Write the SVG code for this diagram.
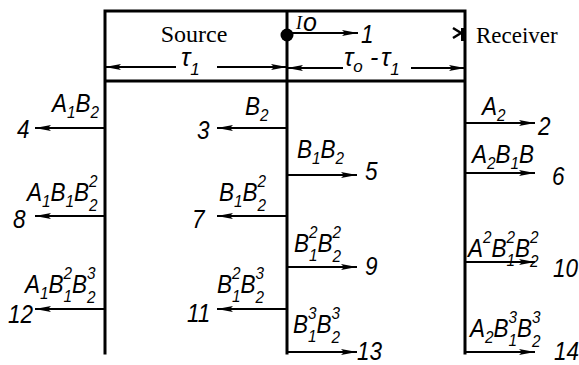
<svg xmlns="http://www.w3.org/2000/svg" width="579" height="365" viewBox="0 0 579 365">
<style>
.fr{stroke:#000;stroke-width:3;fill:none;stroke-linecap:square}
.ar{stroke:#000;stroke-width:2;fill:none}
.lb{font-family:"Liberation Sans",Arial,sans-serif;font-style:italic;font-size:25px;fill:#000}
.s{font-size:17px}
.sf{font-family:"Liberation Serif","Times New Roman",serif;fill:#000}
</style>
<defs>
<marker id="ah" viewBox="0 0 16 6" refX="16" refY="3" markerWidth="16" markerHeight="6" markerUnits="userSpaceOnUse" orient="auto-start-reverse">
<path d="M0,0 L16,3 L0,6 L3,3 z" fill="#000"/>
</marker>
</defs>
<g id="frame">
<path class="fr" d="M105,11 H465 M105,81 H465 M105,11 V353 M287,11 V353 M465,11 V353"/>
</g>
<g id="source">
<text class="sf" x="194" y="42" font-size="24" text-anchor="middle">Source</text>
<circle cx="287" cy="35" r="6.5" fill="#000"/>
</g>
<g id="receiver">
<text class="sf" x="476" y="43" font-size="23">Receiver</text>
<polyline points="453,28 461,33 453,38" fill="none" stroke="#000" stroke-width="2.5"/>
<rect x="461" y="28" width="5" height="13" fill="#000"/>
</g>
<g id="connectors">
<line class="ar" x1="287" y1="33" x2="358" y2="33" marker-end="url(#ah)"/>
<line class="ar" x1="176" y1="67" x2="105" y2="67" marker-end="url(#ah)"/>
<line class="ar" x1="217" y1="67" x2="287" y2="67" marker-end="url(#ah)"/>
<line class="ar" x1="343" y1="68" x2="287" y2="68" marker-end="url(#ah)"/>
<line class="ar" x1="411" y1="68" x2="465" y2="68" marker-end="url(#ah)"/>
<line class="ar" x1="105" y1="128" x2="35" y2="128" marker-end="url(#ah)"/>
<line class="ar" x1="287" y1="128" x2="217" y2="128" marker-end="url(#ah)"/>
<line class="ar" x1="105" y1="216" x2="35" y2="216" marker-end="url(#ah)"/>
<line class="ar" x1="287" y1="216" x2="217" y2="216" marker-end="url(#ah)"/>
<line class="ar" x1="105" y1="309" x2="35" y2="309" marker-end="url(#ah)"/>
<line class="ar" x1="287" y1="309" x2="217" y2="309" marker-end="url(#ah)"/>
<line class="ar" x1="287" y1="175" x2="357" y2="175" marker-end="url(#ah)"/>
<line class="ar" x1="287" y1="267" x2="357" y2="267" marker-end="url(#ah)"/>
<line class="ar" x1="286" y1="352" x2="357" y2="352" marker-end="url(#ah)"/>
<line class="ar" x1="465" y1="123" x2="535" y2="123" marker-end="url(#ah)"/>
<line class="ar" x1="465" y1="173" x2="535" y2="173" marker-end="url(#ah)"/>
<line class="ar" x1="465" y1="262" x2="535" y2="262" marker-end="url(#ah)"/>
<line class="ar" x1="464" y1="352" x2="535" y2="352" marker-end="url(#ah)"/>
</g>
<g id="dims">
<text class="sf" x="296" y="29" font-size="18" font-style="italic">I<tspan class="lb" font-size="15px" dx="1" dy="2">o</tspan></text>
<text class="lb" transform="translate(361,43) scale(0.9,1)">1</text>
<text class="lb" x="181" y="66" font-size="28px">τ<tspan class="s" dy="9">1</tspan></text>
<text class="lb" x="344" y="66" font-size="28px">τ<tspan class="s" dy="6">o</tspan><tspan x="370" dy="-6">-</tspan><tspan x="381">τ</tspan><tspan class="s" dy="9">1</tspan></text>
</g>
<g id="n4"><text class="lb" transform="translate(52,112) scale(0.9,1)">A<tspan class="s" dy="6">1</tspan><tspan dy="-6">B</tspan><tspan class="s" dy="6">2</tspan></text>
<text class="lb" transform="translate(17,138) scale(0.9,1)">4</text></g>
<g id="n3"><text class="lb" transform="translate(245,115) scale(0.9,1)">B<tspan class="s" dy="6">2</tspan></text>
<text class="lb" transform="translate(197,139) scale(0.9,1)">3</text></g>
<g id="n8"><text class="lb" transform="translate(27,201) scale(0.9,1)">A<tspan class="s" dy="6">1</tspan><tspan dy="-6">B</tspan><tspan class="s" dy="6">1</tspan><tspan dy="-6">B</tspan><tspan class="s" dy="-14">2</tspan><tspan class="s" dx="-9.45" dy="24">2</tspan></text>
<text class="lb" transform="translate(13,228) scale(0.9,1)">8</text></g>
<g id="n7"><text class="lb" transform="translate(219,201) scale(0.9,1)">B<tspan class="s" dy="6">1</tspan><tspan dy="-6">B</tspan><tspan class="s" dy="-14">2</tspan><tspan class="s" dx="-9.45" dy="24">2</tspan></text>
<text class="lb" transform="translate(192,228) scale(0.9,1)">7</text></g>
<g id="n12"><text class="lb" transform="translate(25,293) scale(0.9,1)">A<tspan class="s" dy="6">1</tspan><tspan dy="-6">B</tspan><tspan class="s" dy="-14">2</tspan><tspan class="s" dx="-9.45" dy="23">1</tspan><tspan dy="-9">B</tspan><tspan class="s" dy="-14">3</tspan><tspan class="s" dx="-9.45" dy="24">2</tspan></text>
<text class="lb" transform="translate(8,323) scale(0.9,1)">12</text></g>
<g id="n11"><text class="lb" transform="translate(217,293) scale(0.9,1)">B<tspan class="s" dy="-14">2</tspan><tspan class="s" dx="-9.45" dy="23">1</tspan><tspan dy="-9">B</tspan><tspan class="s" dy="-14">3</tspan><tspan class="s" dx="-9.45" dy="24">2</tspan></text>
<text class="lb" transform="translate(187,322) scale(0.9,1)">11</text></g>
<g id="n5"><text class="lb" transform="translate(297,158) scale(0.9,1)">B<tspan class="s" dy="6">1</tspan><tspan dy="-6">B</tspan><tspan class="s" dy="6">2</tspan></text>
<text class="lb" transform="translate(365,180) scale(0.9,1)">5</text></g>
<g id="n2"><text class="lb" transform="translate(482,115) scale(0.9,1)">A<tspan class="s" dy="6">2</tspan></text>
<text class="lb" transform="translate(538,135) scale(0.9,1)">2</text></g>
<g id="n6"><text class="lb" transform="translate(472,163) scale(0.9,1)">A<tspan class="s" dy="6">2</tspan><tspan dy="-6">B</tspan><tspan class="s" dy="6">1</tspan><tspan dy="-6">B</tspan></text>
<text class="lb" transform="translate(552,185) scale(0.9,1)">6</text></g>
<g id="n9"><text class="lb" transform="translate(294,252) scale(0.9,1)">B<tspan class="s" dy="-14">2</tspan><tspan class="s" dx="-9.45" dy="23">1</tspan><tspan dy="-9">B</tspan><tspan class="s" dy="-14">2</tspan><tspan class="s" dx="-9.45" dy="24">2</tspan></text>
<text class="lb" transform="translate(365,275) scale(0.9,1)">9</text></g>
<g id="n10"><text class="lb" transform="translate(468,257) scale(0.9,1)">A<tspan class="s" dy="-14">2</tspan><tspan dy="14">B</tspan><tspan class="s" dy="-14">2</tspan><tspan class="s" dx="-9.45" dy="23">1</tspan><tspan dy="-9">B</tspan><tspan class="s" dy="-14">2</tspan><tspan class="s" dx="-9.45" dy="24">2</tspan></text>
<text class="lb" transform="translate(553,277) scale(0.9,1)">10</text></g>
<g id="n13"><text class="lb" transform="translate(293,333) scale(0.9,1)">B<tspan class="s" dy="-14">3</tspan><tspan class="s" dx="-9.45" dy="23">1</tspan><tspan dy="-9">B</tspan><tspan class="s" dy="-14">3</tspan><tspan class="s" dx="-9.45" dy="24">2</tspan></text>
<text class="lb" transform="translate(357,360) scale(0.9,1)">13</text></g>
<g id="n14"><text class="lb" transform="translate(470,337) scale(0.9,1)">A<tspan class="s" dy="6">2</tspan><tspan dy="-6">B</tspan><tspan class="s" dy="-14">3</tspan><tspan class="s" dx="-9.45" dy="23">1</tspan><tspan dy="-9">B</tspan><tspan class="s" dy="-14">3</tspan><tspan class="s" dx="-9.45" dy="24">2</tspan></text>
<text class="lb" transform="translate(554,360) scale(0.9,1)">14</text></g>
</svg>
